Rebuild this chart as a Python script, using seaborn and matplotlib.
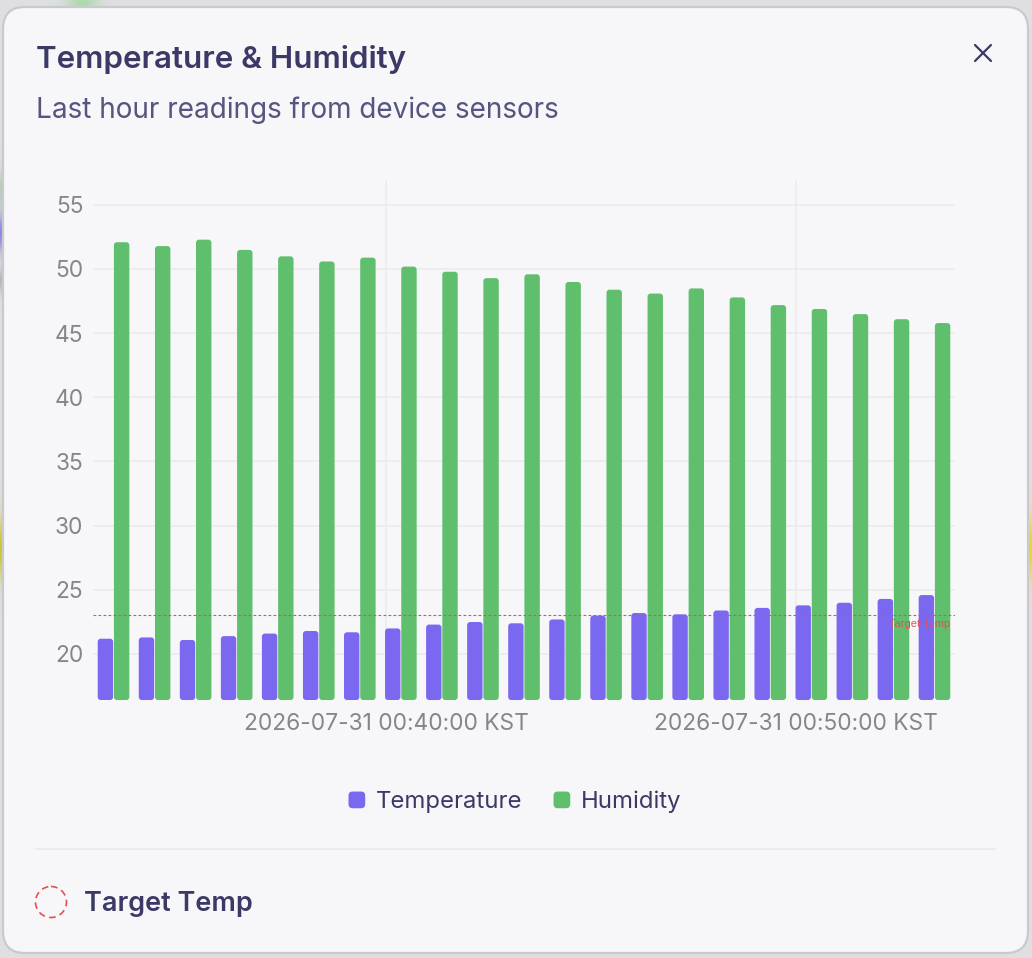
import numpy as np
import pandas as pd
import matplotlib
matplotlib.use("Agg")
import matplotlib.pyplot as plt
import seaborn as sns
from matplotlib.legend_handler import HandlerPatch
from matplotlib.patches import Circle, FancyBboxPatch, Rectangle

# values
readings = list(range(21))
temperature = [21.1, 21.2, 21.0, 21.3, 21.5, 21.7, 21.6, 21.9, 22.2, 22.4, 22.3,
               22.6, 22.9, 23.1, 23.0, 23.3, 23.5, 23.7, 23.9, 24.2, 24.5]
humidity = [52.0, 51.7, 52.2, 51.4, 50.9, 50.5, 50.8, 50.1, 49.7, 49.2, 49.5,
            48.9, 48.3, 48.0, 48.4, 47.7, 47.1, 46.8, 46.4, 46.0, 45.7]
y_ticks = [20, 25, 30, 35, 40, 45, 50, 55]
time_ticks = [6.64, 16.62]
time_labels = ["2026-07-31 00:40:00 KST", "2026-07-31 00:50:00 KST"]
target_temp = 23

W, H = 1032, 958
Y_MIN, Y_MAX = 16.4, 56.85
TEXT_DARK = "#3b3a66"
TEXT_SUB = "#55557f"
TICK = "#868686"
GRID = "#ebebed"
CARD = "#f7f7fa"
RED = "#e05252"
PALETTE = {"Temperature": "#7b68f0", "Humidity": "#5fbf6c"}

sns.set_theme(style="white")
plt.rcParams["font.family"] = ["Inter", "DejaVu Sans"]


class RoundedHandle(HandlerPatch):
    def create_artists(self, legend, orig_handle, xdescent, ydescent, width, height, fontsize, trans):
        p = FancyBboxPatch((-xdescent + 2, -ydescent + 2), width - 4, height - 4,
                           boxstyle="round,pad=2,rounding_size=3",
                           facecolor=orig_handle.get_facecolor(), edgecolor="none", transform=trans)
        return [p]


def px_x(x):
    return x / W


def px_y(y):
    return 1 - y / H


fig = plt.figure(figsize=(W / 100, H / 100), dpi=100)

# blurred page behind the modal card
bg = fig.add_axes([0, 0, 1, 1], zorder=0)
yy, xx = np.mgrid[0:H, 0:W]
page = np.ones((H, W, 3)) * np.array([0.875, 0.875, 0.885])
for cx, cy, rx, ry, col in [(1032, 548, 30, 30, (0.88, 0.85, 0.2)), (0, 548, 30, 30, (0.8, 0.78, 0.2)),
                            (0, 232, 30, 20, (0.55, 0.53, 0.88)), (82, 2, 16, 10, (0.68, 0.85, 0.68)),
                            (0, 280, 30, 12, (0.72, 0.72, 0.72)), (2, 190, 20, 20, (0.72, 0.8, 0.72))]:
    blob = np.exp(-((xx - cx) / rx) ** 2 - ((yy - cy) / ry) ** 2)[..., None]
    page = page * (1 - blob) + np.array(col) * blob
bg.imshow(page, extent=(0, W, H, 0), aspect="auto", interpolation="nearest")
bg.set_xlim(0, W)
bg.set_ylim(H, 0)
bg.axis("off")
bg.add_patch(FancyBboxPatch((23, 27), 985, 906, boxstyle="round,pad=20,rounding_size=22",
                            facecolor=CARD, edgecolor="#c9c9ce", linewidth=1.6))

# header and footer text
fig.text(px_x(35.5), px_y(59.5), "Temperature & Humidity", fontsize=22.6, fontweight="semibold",
         color=TEXT_DARK, va="center", ha="left", zorder=5)
fig.text(px_x(35.5), px_y(110.5), "Last hour readings from device sensors", fontsize=20.1, color=TEXT_SUB,
         va="center", ha="left", zorder=5)
bg.plot([975, 991], [45, 61], color=TEXT_DARK, lw=1.6, solid_capstyle="round")
bg.plot([975, 991], [61, 45], color=TEXT_DARK, lw=1.6, solid_capstyle="round")
bg.plot([36, 995], [849, 849], color="#e9e9ec", lw=1.2)
bg.add_patch(Circle((51, 902), 15.5, fill=False, edgecolor=RED, lw=1.2, linestyle=(0, (4, 2.6))))
fig.text(px_x(83.5), px_y(904), "Target Temp", fontsize=19.5, fontweight="semibold", color=TEXT_DARK,
         va="center", ha="left", zorder=5)

# chart area
ax = fig.add_axes([px_x(93), px_y(700), 862 / W, 519 / H], zorder=2)
ax.patch.set_alpha(0)

df = pd.DataFrame({"reading": readings, "Temperature": temperature, "Humidity": humidity})
long_df = df.melt(id_vars="reading", var_name="series", value_name="value")
sns.barplot(data=long_df, x="reading", y="value", hue="series", palette=PALETTE,
            width=0.79, gap=0.05, saturation=1, ax=ax, legend=False, zorder=3)

ax.set_xlim(-0.5, 20.5)
ax.set_ylim(Y_MIN, Y_MAX)

# swap the square bars for rounded ones, keeping what seaborn positioned
data_per_px_x = 21 / 862
data_per_px_y = (Y_MAX - Y_MIN) / 519
for bar in list(ax.patches):
    x0, w, top = bar.get_x(), bar.get_width(), bar.get_height()
    rad = 3 * data_per_px_x
    rad_y = 3 * data_per_px_y
    rounded = FancyBboxPatch((x0 + rad, Y_MIN + rad_y), w - 2 * rad, top - Y_MIN - 2 * rad_y + data_per_px_y,
                             boxstyle=f"round,pad={rad},rounding_size={rad}",
                             mutation_aspect=data_per_px_y / data_per_px_x,
                             facecolor=bar.get_facecolor(), edgecolor="none", zorder=3)
    bar.remove()
    ax.add_patch(rounded)

ax.set_yticks(y_ticks)
ax.set_xticks(time_ticks)
ax.set_xticklabels(time_labels)
ax.tick_params(axis="both", length=0, labelsize=16.4, labelcolor=TICK)
ax.tick_params(axis="x", pad=9)
ax.tick_params(axis="y", pad=7)
ax.grid(True, color=GRID, lw=1.2, zorder=0)
ax.set_axisbelow(True)
ax.set(xlabel="", ylabel="")
sns.despine(ax=ax, left=True, bottom=True)

ax.axhline(target_temp, color=RED, lw=0.8, linestyle=(0, (2.5, 2)), zorder=4)
ax.text(20.39, target_temp - 0.3, "Target Temp", color=RED, fontsize=8, ha="right", va="top",
        family=["Liberation Sans", "DejaVu Sans"], zorder=5)

handles = [Rectangle((0, 0), 1, 1, facecolor=PALETTE[k]) for k in PALETTE]
leg = fig.legend(handles, list(PALETTE), loc="center", bbox_to_anchor=(px_x(515), px_y(802)), ncol=2,
                 frameon=False, fontsize=17.2, labelcolor=TEXT_DARK, handlelength=0.7, handleheight=0.7,
                 handletextpad=0.45, columnspacing=1.3, handler_map={Rectangle: RoundedHandle()})

fig.savefig("out.png", dpi=100)
